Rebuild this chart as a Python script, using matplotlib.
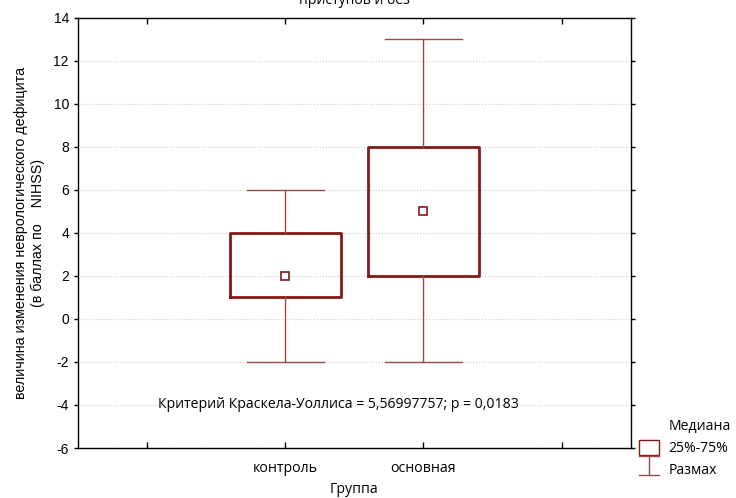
import numpy as np
import matplotlib.pyplot as plt
from matplotlib.lines import Line2D
from matplotlib.patches import Patch
from matplotlib.legend_handler import HandlerBase

# ── Данные ──────────────────────────────────────────────────────────────────
groups = ['контроль', 'основная']
positions = [2, 3]
medians = [2, 5]
q25 = [1, 2]
q75 = [4, 8]
mins = [-2, -2]
maxs = [6, 13]
yticks = np.arange(-6, 15, 2)

box_col = '#841818'
whisk_col = '#9c4848'
txt_font = ['Open Sans', 'DejaVu Sans']
num_font = ['Liberation Sans', 'DejaVu Sans']


class WhiskerHandler(HandlerBase):
    def create_artists(self, legend, orig_handle, x0, y0, width, height, fontsize, trans):
        w = width
        cx = x0 + width / 2
        top, bot = y0 + height + 1, y0 - 2
        lines = [
            Line2D([cx - w / 2, cx + w / 2], [top, top]),
            Line2D([cx - w / 2, cx + w / 2], [bot, bot]),
            Line2D([cx, cx], [bot, top]),
        ]
        for ln in lines:
            ln.set_color(whisk_col)
            ln.set_linewidth(1.0)
            ln.set_transform(trans)
        return lines


fig = plt.figure(figsize=(7.36, 4.98), dpi=100)
ax = fig.add_axes([0.106, 0.1004, 0.751, 0.8635])

bxp_stats = []
for g, med, lo, hi, mn, mx in zip(groups, medians, q25, q75, mins, maxs):
    bxp_stats.append(dict(label=g, med=med, q1=lo, q3=hi, whislo=mn, whishi=mx, fliers=[]))

ax.bxp(bxp_stats, positions=positions, widths=0.8, showfliers=False,
       boxprops=dict(color=box_col, linewidth=2.0),
       whiskerprops=dict(color=whisk_col, linewidth=1.0),
       capprops=dict(color=whisk_col, linewidth=1.0),
       medianprops=dict(linewidth=0),
       capwidths=0.56)
ax.plot(positions, medians, 's', ms=6, mfc='white', mec=box_col, mew=1.2, ls='none', zorder=5)

ax.set_xlim(0.5, 4.5)
ax.set_ylim(-6, 14)
ax.set_xticks([1, 2, 3, 4])
ax.set_xticklabels(['', groups[0], groups[1], ''], fontsize=10.2, family=txt_font)
ax.set_yticks(yticks)
ax.set_yticklabels([str(v) for v in yticks], fontsize=10, family=num_font)
ax.tick_params(axis='y', direction='out', length=3, width=1)
ax.tick_params(axis='x', direction='in', length=4, width=1, pad=9, top=True)
ax.tick_params(axis='y', which='both', right=True)
ax.yaxis.grid(True, linestyle=':', color='#cccccc', linewidth=0.8)
ax.set_axisbelow(True)
for sp in ax.spines.values():
    sp.set_linewidth(1.0)

ax.set_xlabel('Группа', fontsize=10.2, family=txt_font, labelpad=5)
ax.set_ylabel('величина изменения неврологического дефицита\n(в баллах по    NIHSS)',
              fontsize=10.3, family=num_font, labelpad=6, linespacing=1.2)

ax.text(1.08, -4, 'Критерий Краскела-Уоллиса = 5,56997757; p = 0,0183',
        fontsize=10.1, family=txt_font, va='center', ha='left')

fig.text(0.481, 1 - 4 / 498, 'приступов и без', fontsize=10.1, family=txt_font,
         ha='center', va='baseline')

handles = [Line2D([], [], ls='none'),
           Patch(facecolor='white', edgecolor=box_col, linewidth=1.0),
           Line2D([], [], color=whisk_col)]
labels = ['Медиана', '25%-75%', 'Размах']
leg = fig.legend(handles, labels, loc='upper left', bbox_to_anchor=(0.8605, 0.172),
                 frameon=False, handlelength=1.45, handleheight=1.2,
                 handletextpad=0.65, labelspacing=0.45, borderaxespad=0,
                 prop={'family': txt_font, 'size': 10.1},
                 handler_map={handles[2]: WhiskerHandler()})

plt.savefig('out.png', dpi=100)
